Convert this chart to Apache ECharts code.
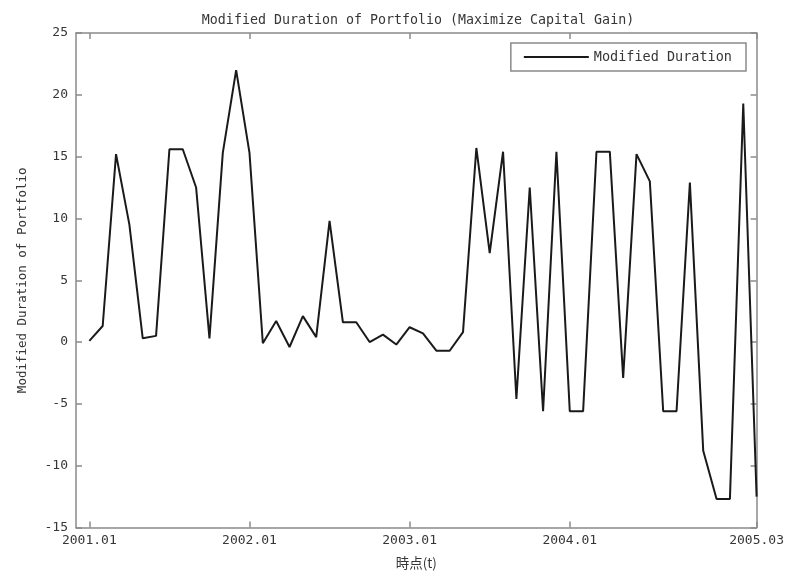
<!DOCTYPE html>
<html>
<head>
<meta charset="utf-8">
<script src="https://cdn.jsdelivr.net/npm/echarts@6/dist/echarts.min.js"></script>
<style>
  html, body { margin: 0; padding: 0; background: #fff; }
  #chart { width: 787px; height: 575px; }
</style>
</head>
<body>
<div id="chart"></div>
<script>
// Monthly observation dates, 2001.01 – 2005.03
const months = [
  '2001.01','2001.02','2001.03','2001.04','2001.05','2001.06','2001.07','2001.08','2001.09','2001.10','2001.11','2001.12',
  '2002.01','2002.02','2002.03','2002.04','2002.05','2002.06','2002.07','2002.08','2002.09','2002.10','2002.11','2002.12',
  '2003.01','2003.02','2003.03','2003.04','2003.05','2003.06','2003.07','2003.08','2003.09','2003.10','2003.11','2003.12',
  '2004.01','2004.02','2004.03','2004.04','2004.05','2004.06','2004.07','2004.08','2004.09','2004.10','2004.11','2004.12',
  '2005.01','2005.02','2005.03'
];

// Modified duration of the portfolio at each month
const modifiedDuration = [
  0.1, 1.3, 15.2, 9.5, 0.3, 0.5, 15.6, 15.6, 12.5, 0.3, 15.3, 22.0,
  15.3, -0.1, 1.7, -0.4, 2.1, 0.4, 9.8, 1.6, 1.6, 0.0, 0.6, -0.2,
  1.2, 0.7, -0.7, -0.7, 0.8, 15.7, 7.2, 15.4, -4.6, 12.5, -5.6, 15.4,
  -5.6, -5.6, 15.4, 15.4, -2.9, 15.2, 13.0, -5.6, -5.6, 12.9, -8.8, -12.7,
  -12.7, 19.3, -12.5
];

// Months that carry a tick and a label on the date axis
const labelledMonths = ['2001.01', '2002.01', '2003.01', '2004.01', '2005.03'];

// Value axis range and step
const yMin = -15, yMax = 25, yStep = 5;

const FONT = '"DejaVu Sans Mono", "Liberation Mono", monospace';
const CJK = '"Noto Sans CJK JP", sans-serif';
const TEXT = '#363636';
const AXIS = '#8a8a8a';

// Month positions on the time axis (index of each month); the axis opens one month early
const tickPositions = labelledMonths.map((m) => months.indexOf(m));
const seriesData = months.map((m, i) => [i, modifiedDuration[i]]);

const chart = echarts.init(document.getElementById('chart'), null, { renderer: 'canvas' });

const frameX = (pos, withLabels) => ({
  type: 'value',
  min: -1,
  max: months.length - 1,
  position: pos,
  axisLine: { show: true, onZero: false, lineStyle: { color: AXIS, width: 1.5 } },
  axisTick: { show: true, inside: true, length: 6, customValues: tickPositions, lineStyle: { color: AXIS, width: 1.5 } },
  axisLabel: withLabels ? {
    show: true,
    customValues: tickPositions,
    formatter: (v) => months[Math.round(v)],
    fontFamily: FONT, fontSize: 13, color: TEXT, margin: 7
  } : { show: false },
  splitLine: { show: false }
});

const frameY = (pos, withLabels) => ({
  type: 'value',
  min: yMin,
  max: yMax,
  interval: yStep,
  position: pos,
  axisLine: { show: true, onZero: false, lineStyle: { color: AXIS, width: 1.5 } },
  axisTick: { show: true, inside: true, length: 6, lineStyle: { color: AXIS, width: 1.5 } },
  axisLabel: withLabels ? { fontFamily: FONT, fontSize: 13, color: TEXT, margin: 8 } : { show: false },
  splitLine: { show: false }
});

const xBottom = Object.assign(frameX('bottom', true), {
  name: '時点(t)',
  nameLocation: 'middle',
  nameGap: 29,
  nameTextStyle: { fontFamily: CJK, fontSize: 13.5, color: TEXT }
});
const yLeft = Object.assign(frameY('left', true), {
  name: 'Modified Duration of Portfolio',
  nameLocation: 'middle',
  nameGap: 47,
  nameTextStyle: { fontFamily: FONT, fontSize: 12.5, color: TEXT }
});

chart.setOption({
  animation: false,
  backgroundColor: '#fff',
  title: {
    text: 'Modified Duration of Portfolio (Maximize Capital Gain)',
    left: 413,
    textAlign: 'center',
    top: 9,
    textStyle: { fontFamily: FONT, fontSize: 13.3, fontWeight: 'normal', color: TEXT }
  },
  legend: {
    right: 41,
    top: 43,
    padding: [7, 14, 7, 13],
    itemWidth: 65,
    itemHeight: 2,
    borderColor: AXIS,
    borderWidth: 1.5,
    borderRadius: 0,
    backgroundColor: '#fff',
    textStyle: { fontFamily: FONT, fontSize: 13.5, color: TEXT },
    data: [{ name: 'Modified Duration', icon: 'rect' }]
  },
  grid: { left: 76, right: 28, top: 33, bottom: 47, containLabel: false },
  xAxis: [xBottom, frameX('top', false)],
  yAxis: [yLeft, frameY('right', false)],
  series: [
    {
      name: 'Modified Duration',
      type: 'line',
      data: seriesData,
      xAxisIndex: 0,
      yAxisIndex: 0,
      symbol: 'none',
      lineStyle: { color: '#1a1a1a', width: 2 },
      itemStyle: { color: '#1a1a1a' }
    }
  ]
});
</script>
</body>
</html>
